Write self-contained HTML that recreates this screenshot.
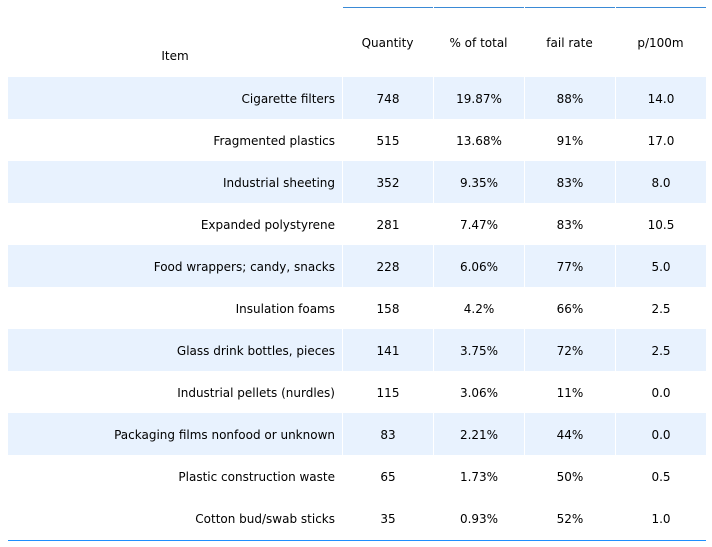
<!DOCTYPE html>
<html><head><meta charset="utf-8"><style>
body{margin:0;width:712px;height:547px;background:#fff;font-family:"DejaVu Sans","Liberation Sans",sans-serif;font-size:12px;color:#000;position:relative;overflow:hidden}
.c{position:absolute;height:42px;line-height:44px;box-sizing:border-box;white-space:nowrap}
.n{text-align:center}
.it{text-align:right;padding-right:7px}
.hl{position:absolute;top:7px;height:1px;background:#3a8ad6}
</style></head><body>
<div id="t"></div>
<script>
const items=["Cigarette filters","Fragmented plastics","Industrial sheeting","Expanded polystyrene","Food wrappers; candy, snacks","Insulation foams","Glass drink bottles, pieces","Industrial pellets (nurdles)","Packaging films nonfood or unknown","Plastic construction waste","Cotton bud/swab sticks"];
const quantity=["748","515","352","281","228","158","141","115","83","65","35"];
const pct=["19.87%","13.68%","9.35%","7.47%","6.06%","4.2%","3.75%","3.06%","2.21%","1.73%","0.93%"];
const fail=["88%","91%","83%","83%","77%","66%","72%","11%","44%","50%","52%"];
const p100=["14.0","17.0","8.0","10.5","5.0","2.5","2.5","0.0","0.0","0.5","1.0"];
const headers=["Quantity","% of total","fail rate","p/100m"];
const t=document.getElementById('t');
const colX=[342,433,524,615],colW=91;
function mk(cls,x,y,w,h,txt,bg,name){const d=document.createElement('div');d.className=cls;d.style.left=x+'px';d.style.top=y+'px';d.style.width=w+'px';d.style.height=h+'px';if(bg)d.style.background=bg;d.textContent=txt;


t.appendChild(d);return d;}
const ih=mk('c n',8,7,334,96,'Item',null,'item-header');ih.style.lineHeight='98px';
headers.forEach((h,j)=>{mk('hl',colX[j]+1,7,colW-1,1,'',null,'header-top-line');
const d=mk('c n',colX[j],7,colW,70,h,null,'column-header');d.style.lineHeight='72px';});
items.forEach((it,i)=>{const y=77+42*i;const bg=(i%2===0&&i<items.length-1)?'#e8f2fe':null;
mk('c it',8,y,334,42,it,bg,'item-cell');
[quantity[i],pct[i],fail[i],p100[i]].forEach((v,j)=>{mk('c n',colX[j]+1,y,colW-1,42,v,bg,'value-cell');});
});
const b=mk('hl',8,540,698,1,'',null,'bottom-rule');b.style.background='#1e90ff';
</script>
</body></html>
